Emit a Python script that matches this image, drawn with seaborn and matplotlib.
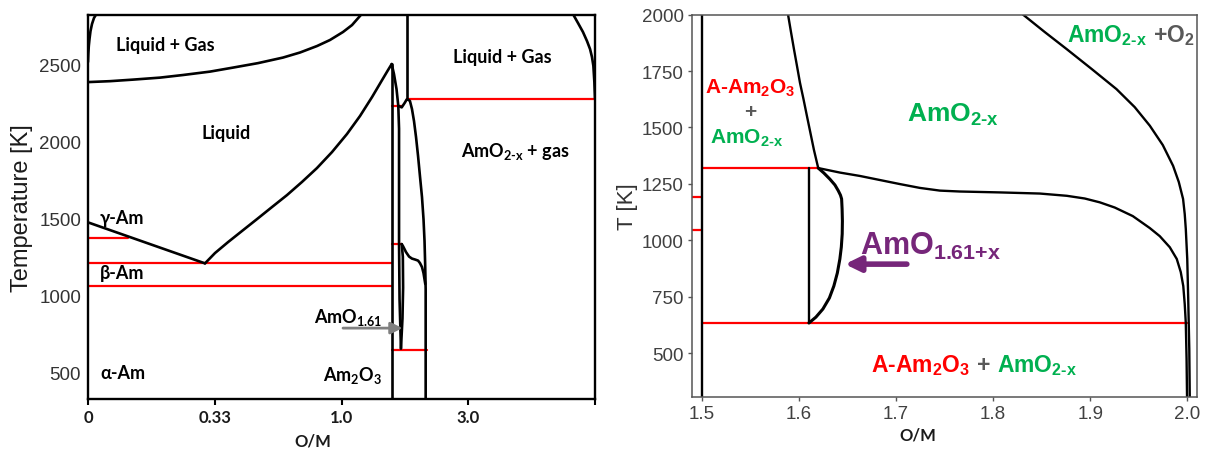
import matplotlib
matplotlib.use("Agg")
import matplotlib.pyplot as plt
import numpy as np
import pandas as pd
import seaborn as sns

# ===================== DATA =====================
# ---- Left panel (Am-O); x = position on the non-linear O/M axis (tick-index units)
left_xtick_pos = [0, 1, 2, 3, 4]
left_xtick_labels = ["0", "0.33", "1.0", "3.0", ""]
left_yticks = [500, 1000, 1500, 2000, 2500]

lg_lower_x = [0.0, 0.174, 0.355, 0.568, 0.750, 0.963, 1.144, 1.341, 1.538, 1.673, 1.807,
              1.909, 2.012, 2.083, 2.146, 2.178]
lg_lower_T = [2383, 2389, 2399, 2412, 2429, 2451, 2477, 2506, 2542, 2575, 2617,
              2656, 2708, 2753, 2812, 2844]
lg_corner_x = [0.0, 0.0024, 0.0063, 0.0118, 0.0197, 0.0316, 0.0473, 0.071]
lg_corner_T = [2513, 2565, 2617, 2662, 2714, 2760, 2799, 2831]
lg_right_x = [3.803, 3.829, 3.866, 3.905, 3.937, 3.961, 3.976, 3.987, 3.995, 4.0]
lg_right_T = [2857, 2820, 2766, 2708, 2649, 2597, 2546, 2489, 2383, 2279]
liquidus_x = [0.923, 1.002, 1.105, 1.215, 1.333, 1.451, 1.570, 1.688, 1.806, 1.925,
              2.043, 2.146, 2.241, 2.320, 2.367, 2.396]
liquidus_T = [1207, 1274, 1345, 1417, 1494, 1572, 1650, 1735, 1825, 1929,
              2046, 2163, 2286, 2396, 2461, 2500]
gamma_x = [0.0, 0.923]
gamma_T = [1473, 1207]
am2o3_x = [2.396, 2.396]
am2o3_T = [300, 2500]
branch_x = [2.396, 2.414, 2.434, 2.448, 2.454, 2.454, 2.458, 2.469]
branch_T = [2500, 2435, 2338, 2229, 2080, 1332, 975, 655]
lens_x = [2.475, 2.484, 2.486, 2.481, 2.469]
lens_T = [1332, 1250, 1050, 850, 655]
upper_v_x = [2.514, 2.514]
upper_v_T = [2850, 2273]
amo2_x = [2.448, 2.475, 2.500, 2.514, 2.528, 2.540, 2.556, 2.572, 2.588, 2.604, 2.619,
          2.635, 2.647, 2.655, 2.660, 2.664, 2.664, 2.664]
amo2_T = [2229, 2219, 2250, 2270, 2268, 2260, 2208, 2130, 2026, 1903, 1773,
          1637, 1494, 1352, 1202, 1040, 780, 300]
solv_x = [2.475, 2.485, 2.509, 2.533, 2.556, 2.580, 2.604, 2.619, 2.635, 2.647, 2.661]
solv_T = [1332, 1319, 1280, 1251, 1238, 1232, 1225, 1209, 1183, 1144, 1073]

# red isotherms: (x start, x end, T)
left_red_x0 = [0.0, 0.0, 0.0, 2.396, 2.514, 2.396, 2.396]
left_red_x1 = [0.318, 2.396, 2.396, 2.475, 4.0, 2.475, 2.672]
left_red_T = [1369, 1207, 1062, 2229, 2273, 1332, 645]

# ---- Right panel (O/M 1.5 - 2.0)
right_xticks = [1.5, 1.6, 1.7, 1.8, 1.9, 2.0]
right_yticks = [500, 750, 1000, 1250, 1500, 1750, 2000]

v15_x = [1.5, 1.5]
v15_T = [300, 2010]
upper_x = [1.5883, 1.5886, 1.5917, 1.5948, 1.5979, 1.6010, 1.6046, 1.6082, 1.6118, 1.6154, 1.6198]
upper_T = [2015, 2003, 1924, 1847, 1773, 1698, 1626, 1550, 1475, 1400, 1320]
v161_x = [1.610, 1.610]
v161_T = [1320, 633]
amo161_x = [1.6198, 1.6256, 1.6318, 1.6370, 1.6404, 1.6427, 1.6439, 1.6444, 1.6447, 1.6445,
            1.6436, 1.6421, 1.6395, 1.6359, 1.6313, 1.6246, 1.6174, 1.6102]
amo161_T = [1320, 1298, 1271, 1245, 1220, 1200, 1183, 1138, 1085, 1028,
            970, 917, 855, 797, 744, 695, 659, 633]
lower_x = [1.6198, 1.6421, 1.6627, 1.6833, 1.7039, 1.7245, 1.7451, 1.7657, 1.8069, 1.8481,
           1.8759, 1.8944, 1.9099, 1.9253, 1.9439, 1.9614, 1.9717, 1.9820, 1.9892, 1.9933,
           1.9959, 1.9974, 1.9985, 1.9993, 1.9998]
lower_T = [1320, 1300, 1285, 1267, 1249, 1232, 1220, 1216, 1212, 1207,
           1197, 1185, 1168, 1145, 1107, 1054, 1018, 969, 917, 859,
           797, 717, 633, 473, 300]
o2_x = [1.8285, 1.8309, 1.8532, 1.8756, 1.9016, 1.9271, 1.9459, 1.9614, 1.9748, 1.9854,
        1.9913, 1.9957, 1.9974, 1.9985, 2.0000, 2.0010, 2.0021, 2.0026]
o2_T = [2016, 2000, 1923, 1848, 1759, 1670, 1590, 1508, 1422, 1330,
        1258, 1183, 1116, 1050, 917, 740, 518, 300]

right_red_x0 = [1.5, 1.5, 1.49, 1.49]
right_red_x1 = [1.6198, 1.9995, 1.5, 1.5]
right_red_T = [1320, 633, 1193, 1044]

# ===================== STYLE =====================
sns.set_style("ticks")
plt.rcParams["font.family"] = ["Liberation Sans", "DejaVu Sans"]
plt.rcParams["mathtext.fontset"] = "custom"
plt.rcParams["mathtext.bf"] = "Lato:bold"
plt.rcParams["mathtext.sf"] = "Liberation Sans:bold"
plt.rcParams["mathtext.rm"] = "Liberation Sans"

RED = "#FF0000"
GREEN = "#00B050"
GRAY = "#595959"
PURPLE = "#76267A"
LATO = ["Lato", "DejaVu Sans"]
HY = "\u2010"  # typographic hyphen (no operator spacing in mathtext)


def long_df(curves):
    rows = []
    for name, (xs, ts) in curves.items():
        for i, (x, t) in enumerate(zip(xs, ts)):
            rows.append((name, i, x, t))
    return pd.DataFrame(rows, columns=["curve", "order", "x", "T"])


def seg_df(x0, x1, T):
    return long_df({f"r{i}": ([a, b], [t, t]) for i, (a, b, t) in enumerate(zip(x0, x1, T))})


fig = plt.figure(figsize=(12.06, 4.52), dpi=100)
ax1 = fig.add_axes([0.07297, 0.1150, 0.4204, 0.8502])
ax2 = fig.add_axes([0.5740, 0.1195, 0.4185, 0.8458])

# ===================== LEFT PANEL =====================
sns.lineplot(data=seg_df(left_red_x0, left_red_x1, left_red_T), x="x", y="T", units="curve",
             estimator=None, sort=False, color=RED, linewidth=1.6, ax=ax1, legend=False)
left_curves = {
    "lg_lower": (lg_lower_x, lg_lower_T), "lg_corner": (lg_corner_x, lg_corner_T),
    "lg_right": (lg_right_x, lg_right_T), "liquidus": (liquidus_x, liquidus_T),
    "gamma": (gamma_x, gamma_T), "am2o3": (am2o3_x, am2o3_T), "branch": (branch_x, branch_T),
    "lens": (lens_x, lens_T), "upper_v": (upper_v_x, upper_v_T), "amo2": (amo2_x, amo2_T),
    "solv": (solv_x, solv_T),
}
sns.lineplot(data=long_df(left_curves), x="x", y="T", units="curve", estimator=None, sort=False,
             color="black", linewidth=1.9, ax=ax1, legend=False)
for ln in ax1.lines:
    ln.set_solid_joinstyle("round")

ax1.set_xlim(0, 4)
ax1.set_ylim(327, 2820)
ax1.set_xticks(left_xtick_pos)
ax1.set_xticklabels(left_xtick_labels, fontfamily=LATO, fontweight="bold", fontsize=12, color="#1a1a1a")
ax1.set_yticks(left_yticks)
ax1.set_yticklabels([str(v) for v in left_yticks], fontsize=13.5, color="#333333")
ax1.tick_params(axis="x", direction="out", length=4, width=1.5, color="black", pad=3)
ax1.tick_params(axis="y", length=0, pad=5)
for sp in ax1.spines.values():
    sp.set_visible(True)
    sp.set_color("black")
    sp.set_linewidth(1.7)
ax1.set_xlabel("O/M", fontfamily=LATO, fontweight="bold", fontsize=12, color="#1a1a1a")
ax1.xaxis.set_label_coords(0.444, -0.088)
ax1.set_ylabel("Temperature [K]", fontsize=17, color="#1a1a1a")
ax1.yaxis.set_label_coords(-0.108, 0.5)

lkw = dict(fontfamily=LATO, fontweight="bold", fontsize=13, color="black")
ax1.text(0.607, 2630, "Liquid + Gas", ha="center", va="center", **lkw)
ax1.text(1.089, 2059, "Liquid", ha="center", va="center", **lkw)
ax1.text(0.095, 1507, "γ-Am", ha="left", va="center", **lkw)
ax1.text(0.095, 1151, "β-Am", ha="left", va="center", **lkw)
ax1.text(0.095, 502, "α-Am", ha="left", va="center", **lkw)
ax1.text(2.32, 862, r"$\mathbf{AmO_{1.61}}$", ha="right", va="center", **lkw)
ax1.text(2.32, 489, r"$\mathbf{Am_2O_3}$", ha="right", va="center", **lkw)
ax1.text(3.266, 2552, "Liquid + Gas", ha="center", va="center", **lkw)
ax1.text(3.369, 1936, r"$\mathbf{AmO_{2" + HY + r"x}}$ + gas", ha="center", va="center", **lkw)
ax1.annotate("", xy=(2.481, 787), xytext=(2.012, 787),
             arrowprops=dict(arrowstyle="-|>,head_length=0.5,head_width=0.25", color="#808080",
                             lw=2, mutation_scale=14, shrinkA=0, shrinkB=0))

# ===================== RIGHT PANEL =====================
sns.lineplot(data=seg_df(right_red_x0, right_red_x1, right_red_T), x="x", y="T", units="curve",
             estimator=None, sort=False, color=RED, linewidth=1.6, ax=ax2, legend=False)
right_curves = {
    "v15": (v15_x, v15_T), "upper": (upper_x, upper_T), "v161": (v161_x, v161_T),
    "amo161": (amo161_x, amo161_T), "lower": (lower_x, lower_T), "o2": (o2_x, o2_T),
}
sns.lineplot(data=long_df(right_curves), x="x", y="T", units="curve", estimator=None, sort=False,
             color="black", linewidth=1.7, ax=ax2, legend=False)
ax2.lines[-6].set_linewidth(2.2)
for ln in ax2.lines:
    ln.set_solid_joinstyle("round")

ax2.set_xlim(1.49, 2.01)
ax2.set_ylim(305, 2000)
ax2.set_xticks(right_xticks)
ax2.set_xticklabels([f"{v:.1f}" for v in right_xticks], fontsize=13.5, color="#404040")
ax2.set_yticks(right_yticks)
ax2.set_yticklabels([str(v) for v in right_yticks], fontsize=13.5, color="#404040")
ax2.tick_params(direction="out", length=3, width=1, color="#555555", pad=3)
for sp in ax2.spines.values():
    sp.set_visible(True)
    sp.set_color("#555555")
    sp.set_linewidth(1.1)
ax2.set_xlabel("O/M", fontfamily=LATO, fontweight="bold", fontsize=12, color="#1a1a1a")
ax2.xaxis.set_label_coords(0.447, -0.078)
ax2.set_ylabel("T [K]", fontsize=16, color="#333333")
ax2.yaxis.set_label_coords(-0.108, 0.5)

AMO2X = r"$\mathsf{AmO_{2" + HY + r"x}}$"
skw = dict(fontweight="bold", ha="center", va="center")
ax2.text(1.5494, 1677, r"$\mathsf{A}$-$\mathsf{Am_2O_3}$", color=RED, fontsize=15, **skw)
ax2.text(1.5494, 1571, "+", color=GRAY, fontsize=15, **skw)
ax2.text(1.5463, 1456, AMO2X, color=GREEN, fontsize=15, **skw)
ax2.text(1.7585, 1558, AMO2X, color=GREEN, fontsize=19, **skw)
ax2.text(1.9583, 1910, AMO2X, color=GREEN, fontsize=16.5,
         fontweight="bold", ha="right", va="center")
ax2.text(1.9645, 1910, r"$\mathsf{+O_2}$", color=GRAY, fontsize=16.5,
         fontweight="bold", ha="left", va="center")
ax2.text(1.6627, 979, r"$\mathsf{AmO_{1.61{+}x}}$", color=PURPLE, fontsize=22,
         fontweight="bold", ha="left", va="center")
ax2.annotate("", xy=(1.6473, 894), xytext=(1.7111, 894),
             arrowprops=dict(arrowstyle="-|>,head_length=0.45,head_width=0.22", color=PURPLE,
                             lw=4, mutation_scale=20, shrinkA=0, shrinkB=0))
ax2.text(1.776, 451, r"$\mathsf{A}$-$\mathsf{Am_2O_3}$", color=RED, fontsize=16.5,
         fontweight="bold", ha="right", va="center")
ax2.text(1.7904, 451, "+", color=GRAY, fontsize=16.5, **skw)
ax2.text(1.8038, 451, AMO2X, color=GREEN, fontsize=16.5,
         fontweight="bold", ha="left", va="center")

fig.savefig("out.png", dpi=100)
